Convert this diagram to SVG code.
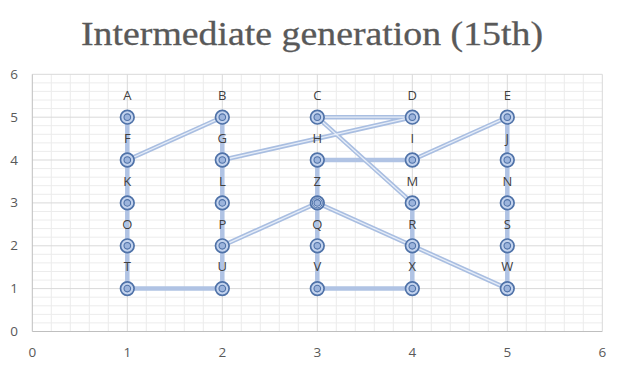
<svg xmlns="http://www.w3.org/2000/svg" width="624" height="368" viewBox="0 0 624 368" xmlns:xlink="http://www.w3.org/1999/xlink">
<style>
.minor{stroke:#ececec;stroke-width:1;fill:none}
.major{stroke:#d9d9d9;stroke-width:1;fill:none}
.axis{stroke:#bfbfbf;stroke-width:1;fill:none}
.ax{font-family:"Open Sans","Liberation Sans",Arial,sans-serif;font-size:13.5px;fill:#595959;text-anchor:middle}
.lbl{font-family:"Open Sans","Liberation Sans",Arial,sans-serif;font-size:13px;fill:#404040;text-anchor:middle}
.title{font-family:"Liberation Serif","Times New Roman",serif;font-size:33px;fill:#595959;text-anchor:middle;stroke:#595959;stroke-width:0.3}
.eo{stroke:#a9bee1;stroke-width:4.5;fill:none;stroke-linecap:round}
.ei{stroke:#e6edf8;stroke-width:1.3;fill:none}
.es{stroke:#b0c3e4;stroke-width:4.5;fill:none;stroke-linecap:round}
.mo{fill:#c3d3ee;stroke:#4f72a8;stroke-width:1.7}
.mi{fill:#9cb4dc;stroke:#4f72a8;stroke-width:1.1}
</style>
<defs>
<g id="mk"><circle class="mo" r="6.8"/><circle class="mi" r="3.3"/></g>
</defs>
<rect width="624" height="368" fill="#ffffff"/>
<text class="title" x="312" y="45" textLength="462" lengthAdjust="spacingAndGlyphs">Intermediate generation (15th)</text>
<g id="grid">
<path class="minor" d="M51.3 74.3V331.5M70.3 74.3V331.5M89.3 74.3V331.5M108.3 74.3V331.5M146.3 74.3V331.5M165.3 74.3V331.5M184.3 74.3V331.5M203.3 74.3V331.5M241.3 74.3V331.5M260.3 74.3V331.5M279.3 74.3V331.5M298.3 74.3V331.5M336.3 74.3V331.5M355.3 74.3V331.5M374.3 74.3V331.5M393.3 74.3V331.5M431.3 74.3V331.5M450.3 74.3V331.5M469.3 74.3V331.5M488.3 74.3V331.5M526.3 74.3V331.5M545.3 74.3V331.5M564.3 74.3V331.5M583.3 74.3V331.5"/>
<path class="minor" d="M32.3 322.9H602.3M32.3 314.4H602.3M32.3 305.8H602.3M32.3 297.2H602.3M32.3 280.1H602.3M32.3 271.5H602.3M32.3 262.9H602.3M32.3 254.3H602.3M32.3 237.2H602.3M32.3 228.6H602.3M32.3 220H602.3M32.3 211.5H602.3M32.3 194.3H602.3M32.3 185.7H602.3M32.3 177.2H602.3M32.3 168.6H602.3M32.3 151.4H602.3M32.3 142.9H602.3M32.3 134.3H602.3M32.3 125.7H602.3M32.3 108.6H602.3M32.3 100H602.3M32.3 91.4H602.3M32.3 82.9H602.3"/>
<path class="major" d="M127.3 74.3V331.5M222.3 74.3V331.5M317.3 74.3V331.5M412.3 74.3V331.5M507.3 74.3V331.5M602.3 74.3V331.5M32.3 74.3H602.3M32.3 117.2H602.3M32.3 160H602.3M32.3 202.9H602.3M32.3 245.8H602.3M32.3 288.6H602.3"/>
<path class="axis" d="M32.3 74.3V331.5H602.3"/>
</g>
<g id="axes">
<text class="ax" x="14" y="336">0</text>
<text class="ax" x="14" y="293.1">1</text>
<text class="ax" x="14" y="250.3">2</text>
<text class="ax" x="14" y="207.4">3</text>
<text class="ax" x="14" y="164.5">4</text>
<text class="ax" x="14" y="121.7">5</text>
<text class="ax" x="14" y="78.8">6</text>
<text class="ax" x="32.3" y="357">0</text>
<text class="ax" x="127.3" y="357">1</text>
<text class="ax" x="222.3" y="357">2</text>
<text class="ax" x="317.3" y="357">3</text>
<text class="ax" x="412.3" y="357">4</text>
<text class="ax" x="507.3" y="357">5</text>
<text class="ax" x="602.3" y="357">6</text>
</g>
<g id="connectors">
<path class="es" d="M127.3 117.2V288.6H222.3V117.2M317.3 160V288.6H412.3V202.9M507.3 117.2V288.6M317.3 160H412.3"/>
<path class="eo" d="M127.3 160L222.3 117.2M222.3 160L412.3 117.2M317.3 117.2H412.3M317.3 117.2L412.3 202.9M412.3 160L507.3 117.2M222.3 245.8L317.3 202.9L507.3 288.6"/>
<path class="ei" d="M127.3 160L222.3 117.2M222.3 160L412.3 117.2M317.3 117.2H412.3M317.3 117.2L412.3 202.9M412.3 160L507.3 117.2M222.3 245.8L317.3 202.9L507.3 288.6"/>
</g>
<g id="A"><use xlink:href="#mk" x="127.3" y="117.2"/><text class="lbl" x="127.3" y="100">A</text></g>
<g id="B"><use xlink:href="#mk" x="222.3" y="117.2"/><text class="lbl" x="222.3" y="100">B</text></g>
<g id="C"><use xlink:href="#mk" x="317.3" y="117.2"/><text class="lbl" x="317.3" y="100">C</text></g>
<g id="D"><use xlink:href="#mk" x="412.3" y="117.2"/><text class="lbl" x="412.3" y="100">D</text></g>
<g id="E"><use xlink:href="#mk" x="507.3" y="117.2"/><text class="lbl" x="507.3" y="100">E</text></g>
<g id="F"><use xlink:href="#mk" x="127.3" y="160"/><text class="lbl" x="127.3" y="142.8">F</text></g>
<g id="G"><use xlink:href="#mk" x="222.3" y="160"/><text class="lbl" x="222.3" y="142.8">G</text></g>
<g id="H"><use xlink:href="#mk" x="317.3" y="160"/><text class="lbl" x="317.3" y="142.8">H</text></g>
<g id="I"><use xlink:href="#mk" x="412.3" y="160"/><text class="lbl" x="412.3" y="142.8">I</text></g>
<g id="J"><use xlink:href="#mk" x="507.3" y="160"/><text class="lbl" x="507.3" y="142.8">J</text></g>
<g id="K"><use xlink:href="#mk" x="127.3" y="202.9"/><text class="lbl" x="127.3" y="185.7">K</text></g>
<g id="L"><use xlink:href="#mk" x="222.3" y="202.9"/><text class="lbl" x="222.3" y="185.7">L</text></g>
<g id="Z"><use xlink:href="#mk" x="317.3" y="202.9"/><circle cx="317.3" cy="202.9" r="5" fill="none" stroke="#4f72a8" stroke-width="1"/><text class="lbl" x="317.3" y="185.7">Z</text></g>
<g id="M"><use xlink:href="#mk" x="412.3" y="202.9"/><text class="lbl" x="412.3" y="185.7">M</text></g>
<g id="N"><use xlink:href="#mk" x="507.3" y="202.9"/><text class="lbl" x="507.3" y="185.7">N</text></g>
<g id="O"><use xlink:href="#mk" x="127.3" y="245.8"/><text class="lbl" x="127.3" y="228.6">O</text></g>
<g id="P"><use xlink:href="#mk" x="222.3" y="245.8"/><text class="lbl" x="222.3" y="228.6">P</text></g>
<g id="Q"><use xlink:href="#mk" x="317.3" y="245.8"/><text class="lbl" x="317.3" y="228.6">Q</text></g>
<g id="R"><use xlink:href="#mk" x="412.3" y="245.8"/><text class="lbl" x="412.3" y="228.6">R</text></g>
<g id="S"><use xlink:href="#mk" x="507.3" y="245.8"/><text class="lbl" x="507.3" y="228.6">S</text></g>
<g id="T"><use xlink:href="#mk" x="127.3" y="288.6"/><text class="lbl" x="127.3" y="271.4">T</text></g>
<g id="U"><use xlink:href="#mk" x="222.3" y="288.6"/><text class="lbl" x="222.3" y="271.4">U</text></g>
<g id="V"><use xlink:href="#mk" x="317.3" y="288.6"/><text class="lbl" x="317.3" y="271.4">V</text></g>
<g id="X"><use xlink:href="#mk" x="412.3" y="288.6"/><text class="lbl" x="412.3" y="271.4">X</text></g>
<g id="W"><use xlink:href="#mk" x="507.3" y="288.6"/><text class="lbl" x="507.3" y="271.4">W</text></g>
</svg>
